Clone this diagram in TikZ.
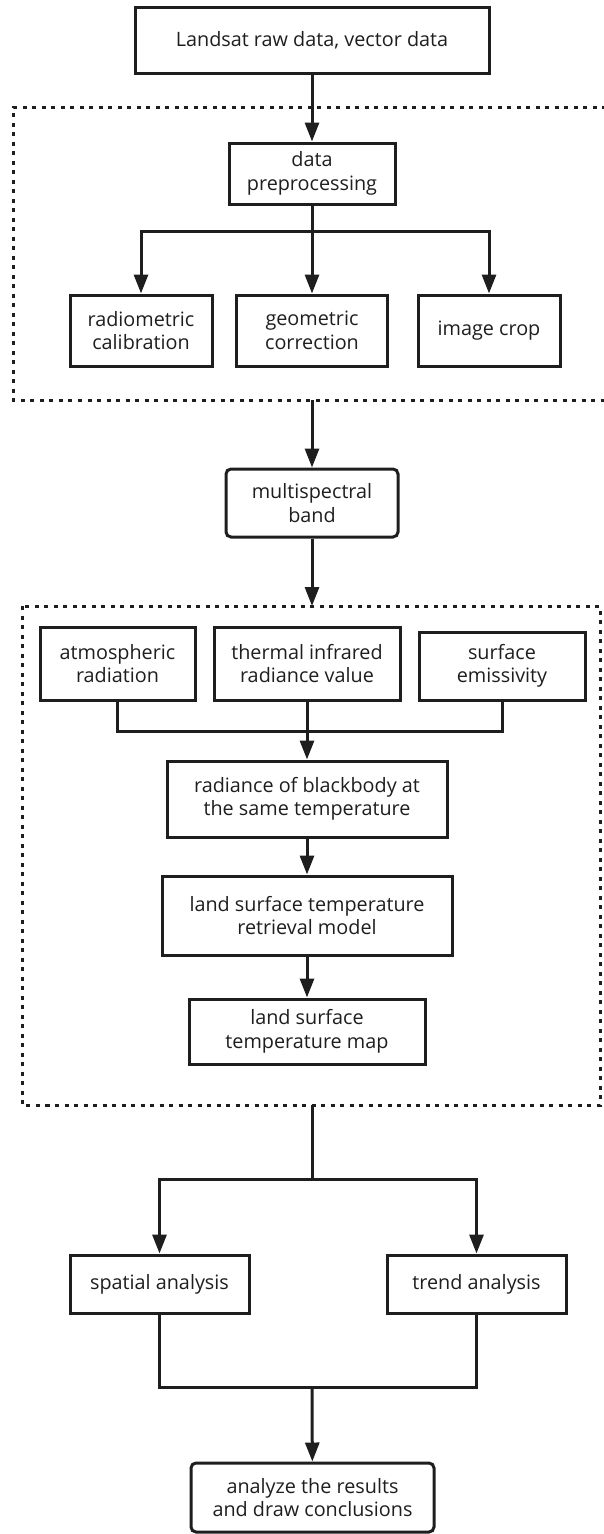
\documentclass[tikz,border=0pt]{standalone}
\usepackage{fontspec}
\setmainfont{Open Sans}
\usetikzlibrary{arrows.meta}
\definecolor{ink}{HTML}{1E1E1E}
\begin{document}
\begin{tikzpicture}[x=1pt,y=-1pt,
  box/.style={draw=ink, text=ink, line width=3pt, inner sep=0pt, align=center, font=\fontsize{19.8}{23.5}\selectfont},
  rbox/.style={box, rounded corners=5pt},
  conn/.style={draw=ink, line width=3pt},
  arr/.style={conn, -{Triangle[length=19pt,width=14pt]}},
  dotbox/.style={draw=ink, line width=3pt, dash pattern=on 4pt off 5.5pt}]
\useasboundingbox (0,0) rectangle (603,1534);

% dotted groups
\draw[dotbox] (606,107) -- (13.5,107) -- (13.5,400) -- (606,400);
\draw[dotbox] (22,606) rectangle (600,1105);

% nodes
\node[box, minimum width=354, minimum height=66] (top) at (312,40) {Landsat raw data, vector data};
\node[box, minimum width=166, minimum height=61] (dp) at (312,173.5) {data\\preprocessing};
\node[box, minimum width=142, minimum height=71] (rad) at (141,330.5) {radiometric\\calibration};
\node[box, minimum width=151, minimum height=71] (geo) at (312,330.5) {geometric\\correction};
\node[box, minimum width=142, minimum height=71] (crop) at (489,330.5) {image crop};
\node[rbox, minimum width=172, minimum height=68] (ms) at (312,503) {multispectral\\band};
\node[box, minimum width=155, minimum height=73] (atm) at (117.5,663.5) {atmospheric\\radiation};
\node[box, minimum width=186, minimum height=73] (therm) at (307,663.5) {thermal infrared\\radiance value};
\node[box, minimum width=166, minimum height=68] (surf) at (502,666) {surface\\emissivity};
\node[box, minimum width=280, minimum height=76] (radbb) at (307,799) {radiance of blackbody at\\the same temperature};
\node[box, minimum width=290, minimum height=79] (lst) at (307,915.5) {land surface temperature\\retrieval model};
\node[box, minimum width=236, minimum height=65] (map) at (307,1031.5) {land surface\\temperature map};
\node[box, minimum width=179, minimum height=58] (spatial) at (159.5,1284) {spatial analysis};
\node[box, minimum width=179, minimum height=58] (trend) at (476.5,1284) {trend analysis};
\node[rbox, minimum width=243, minimum height=69] (final) at (312.5,1497.5) {analyze the results\\and draw conclusions};

% junction points
\coordinate (d1b) at (312,400);
\coordinate (d2t) at (312,606);
\coordinate (d2b) at (312,1105);
\coordinate (s1) at (312,231);
\coordinate (j1) at (307,731);
\coordinate (s2) at (312,1179);
\coordinate (j2) at (312,1387);

% connectors
\draw[arr] (top) -- (dp);
\draw[conn] (dp) -- (s1);
\draw[arr] (s1) -| (rad);
\draw[arr] (s1) -- (geo);
\draw[arr] (s1) -| (crop);
\draw[arr] (d1b) -- (ms);
\draw[arr] (ms) -- (d2t);
\draw[conn] (atm) |- (j1);
\draw[conn] (surf) |- (j1);
\draw[conn] (therm) -- (j1);
\draw[arr] (j1) -- (radbb);
\draw[arr] (radbb) -- (lst);
\draw[arr] (lst) -- (map);
\draw[conn] (d2b) -- (s2);
\draw[arr] (s2) -| (spatial);
\draw[arr] (s2) -| (trend);
\draw[conn] (spatial) |- (j2);
\draw[conn] (trend) |- (j2);
\draw[arr] (j2) -- (final);
\end{tikzpicture}
\end{document}
